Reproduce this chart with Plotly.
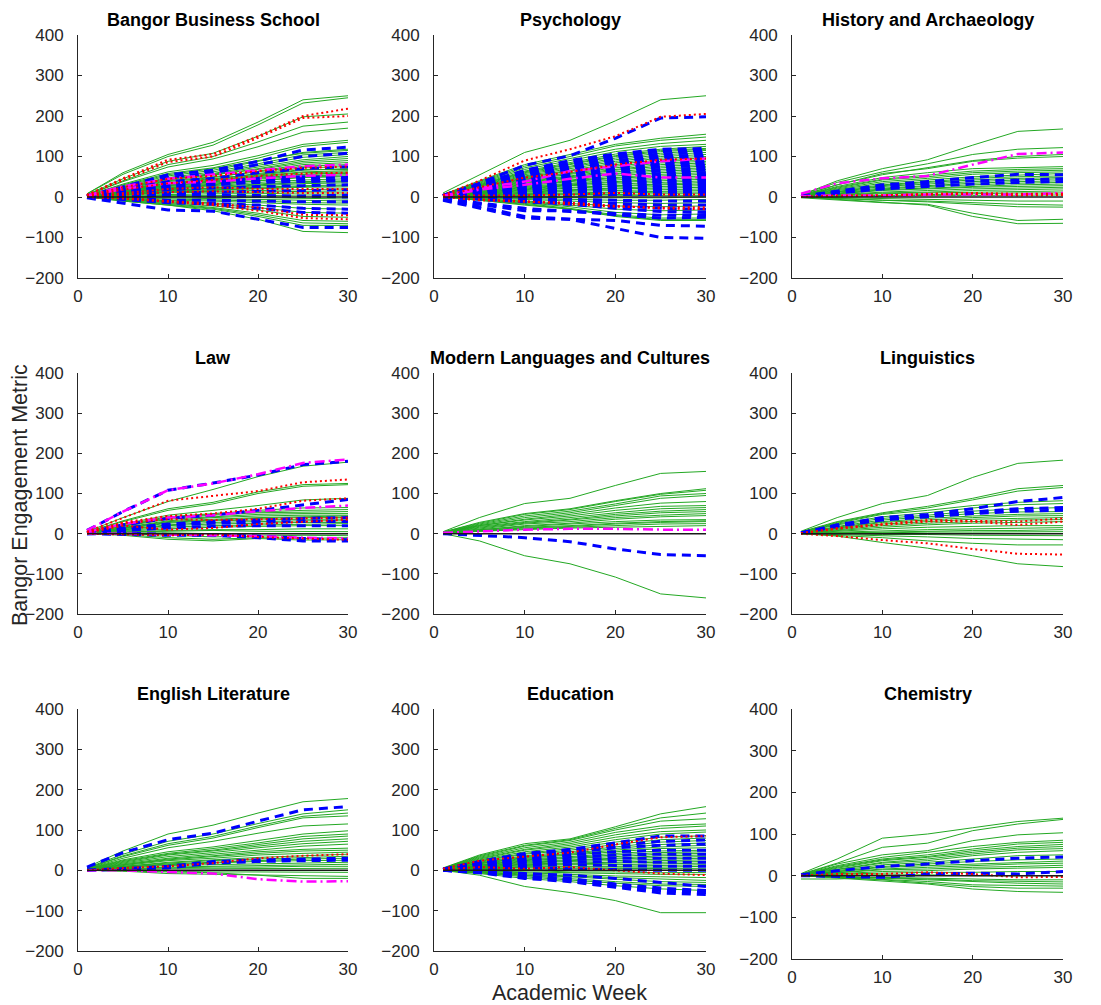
import plotly.graph_objects as go

# Academic weeks at which each student's cumulative metric is recorded
WEEKS = [1, 5, 10, 15, 20, 25, 30]
ZERO = [0, 0, 0, 0, 0, 0, 0]

TITLES = ["Bangor Business School", "Psychology", "History and Archaeology",
          "Law", "Modern Languages and Cultures", "Linguistics",
          "English Literature", "Education", "Chemistry"]

# ---- Bangor Business School ----
bbs_green = [
    [8, 60, 105, 135, 185, 240, 250], [8, 56, 100, 128, 178, 232, 245],
    [6, 45, 88, 108, 150, 198, 205], [5, 40, 80, 100, 136, 175, 185],
    [5, 38, 74, 94, 124, 160, 170], [4, 32, 62, 78, 102, 130, 140],
    [4, 30, 58, 72, 96, 125, 135], [3, 26, 52, 66, 88, 110, 118],
    [4, 28, 55, 70, 90, 108, 115], [3, 24, 48, 62, 82, 104, 110],
    [3, 22, 45, 58, 78, 98, 105], [3, 24, 46, 56, 74, 92, 100],
    [2, 20, 42, 54, 70, 88, 95], [3, 22, 44, 55, 68, 84, 90],
    [2, 18, 38, 48, 64, 80, 85], [2, 20, 40, 50, 62, 76, 80],
    [2, 16, 34, 44, 58, 72, 75], [1, 18, 32, 42, 54, 66, 70],
    [2, 18, 35, 45, 56, 68, 68], [2, 15, 30, 40, 52, 62, 65],
    [1, 15, 28, 38, 50, 60, 62], [1, 14, 28, 36, 46, 56, 60],
    [2, 17, 30, 38, 48, 56, 58], [1, 12, 26, 34, 44, 52, 55],
    [1, 12, 22, 30, 40, 50, 52], [2, 14, 24, 32, 40, 48, 50],
    [1, 10, 22, 28, 36, 42, 45], [1, 12, 20, 26, 32, 38, 40],
    [1, 8, 16, 22, 30, 36, 38], [0, 8, 18, 22, 28, 33, 35],
    [1, 10, 16, 20, 24, 28, 30], [0, 6, 12, 16, 22, 26, 28],
    [0, 6, 14, 18, 20, 24, 25], [1, 8, 12, 14, 16, 19, 20],
    [0, 5, 10, 12, 12, 14, 15], [0, 4, 6, 8, 8, 10, 10],
    [0, 2, 4, 4, 3, 5, 5], [0, 0, 2, 0, -2, -3, -5],
    [0, -2, -2, -4, -6, -9, -10], [0, -2, -4, -8, -10, -14, -15],
    [0, -4, -8, -10, -14, -18, -20], [0, -4, -10, -14, -20, -28, -30],
    [0, -6, -12, -18, -26, -38, -40], [0, -6, -14, -22, -32, -48, -50],
    [0, -8, -16, -26, -40, -58, -60], [0, -8, -18, -28, -44, -64, -66],
    [0, -10, -20, -30, -48, -70, -70], [0, -10, -20, -34, -55, -85, -88],
]
bbs_blue = [
    [3, 25, 55, 66, 88, 116, 123], [3, 22, 48, 60, 80, 100, 108],
    [2, 18, 38, 46, 60, 70, 75], [1, 14, 26, 32, 40, 44, 42],
    [2, 15, 30, 38, 46, 50, 48], [1, 12, 24, 30, 36, 38, 40],
    [1, 10, 18, 22, 26, 28, 30], [0, 6, 10, 12, 14, 16, 18],
    [0, 2, 8, 6, 4, 2, 0], [0, 4, 4, 2, 2, 2, 5],
    [0, -2, -8, -8, -10, -12, -12], [0, -4, -12, -16, -20, -28, -30],
    [0, -6, -14, -18, -28, -38, -40], [-2, -15, -32, -35, -55, -75, -75],
]
bbs_red = [
    [5, 46, 92, 106, 150, 200, 218], [5, 42, 86, 100, 146, 195, 200],
    [3, 24, 45, 52, 64, 72, 75], [2, 18, 34, 42, 52, 58, 60],
    [1, 10, 20, 24, 20, 20, 20], [0, 6, 12, 14, 12, 10, 10],
    [0, -2, -10, -16, -26, -44, -45], [0, -4, -12, -20, -34, -52, -55],
]
bbs_magenta = [[4, 26, 45, 56, 66, 76, 80], [3, 20, 34, 38, 46, 52, 55]]

# ---- Psychology ----
psy_green = [
    [10, 55, 110, 140, 188, 240, 250], [6, 40, 80, 105, 130, 145, 155],
    [6, 38, 76, 100, 126, 140, 148], [5, 36, 72, 95, 118, 132, 140],
    [5, 34, 68, 90, 112, 125, 130], [4, 32, 64, 85, 106, 118, 125],
    [4, 30, 62, 82, 102, 115, 120], [4, 30, 60, 80, 100, 112, 118],
    [4, 28, 58, 76, 96, 108, 115], [3, 27, 55, 74, 92, 104, 110],
    [3, 26, 52, 70, 88, 100, 105], [3, 24, 50, 66, 84, 96, 100],
    [3, 23, 48, 64, 80, 92, 96], [3, 22, 46, 60, 76, 88, 92],
    [2, 21, 44, 58, 72, 84, 88], [2, 20, 42, 56, 68, 80, 84],
    [2, 19, 40, 52, 66, 76, 80], [2, 18, 38, 50, 62, 72, 76],
    [2, 17, 36, 48, 58, 68, 72], [2, 16, 34, 46, 56, 64, 68],
    [2, 15, 32, 42, 52, 60, 64], [2, 14, 30, 40, 48, 56, 60],
    [2, 14, 28, 38, 46, 52, 56], [1, 12, 26, 34, 42, 48, 52],
    [1, 12, 24, 32, 38, 44, 48], [1, 10, 22, 30, 36, 40, 44],
    [1, 10, 20, 28, 32, 36, 40], [1, 8, 18, 24, 28, 32, 36],
    [1, 8, 16, 22, 26, 30, 32], [1, 6, 14, 18, 22, 26, 28],
    [1, 6, 12, 16, 20, 22, 24], [1, 5, 10, 14, 16, 18, 20],
    [0, 4, 8, 10, 12, 14, 16], [0, 3, 6, 8, 10, 12, 12],
    [0, 2, 4, 6, 6, 8, 8], [0, 1, 2, 2, 3, 4, 4],
    [0, 0, 0, -2, -2, -2, 0], [0, -2, -4, -6, -8, -8, -6],
    [0, -2, -6, -10, -14, -16, -14], [0, -4, -10, -16, -22, -24, -22],
    [0, -4, -12, -20, -30, -34, -32], [0, -6, -14, -24, -38, -44, -42],
    [0, -6, -16, -28, -44, -52, -52], [0, -8, -18, -30, -46, -56, -56],
    [0, -8, -20, -30, -48, -58, -58],
]
psy_blue = [
    [4, 34, 78, 102, 145, 195, 198], [4, 32, 66, 90, 106, 118, 120],
    [3, 30, 62, 84, 102, 112, 115], [3, 28, 58, 78, 96, 106, 110],
    [3, 26, 54, 72, 90, 100, 104], [3, 24, 50, 68, 86, 96, 100],
    [3, 22, 46, 62, 80, 90, 94], [2, 20, 44, 58, 74, 84, 88],
    [2, 20, 42, 54, 70, 80, 82], [2, 18, 38, 50, 66, 74, 78],
    [2, 16, 36, 48, 60, 68, 72], [2, 15, 34, 44, 56, 64, 66],
    [2, 14, 30, 40, 50, 58, 60], [2, 12, 28, 36, 46, 52, 55],
    [1, 12, 26, 34, 42, 48, 50], [1, 10, 24, 30, 38, 42, 45],
    [1, 10, 20, 28, 34, 38, 40], [1, 8, 18, 24, 30, 34, 35],
    [1, 7, 16, 20, 26, 28, 30], [1, 6, 14, 18, 22, 24, 25],
    [1, 5, 12, 16, 18, 20, 20], [0, 4, 10, 12, 14, 16, 15],
    [0, 3, 6, 8, 10, 10, 10], [0, 2, 4, 4, 6, 6, 5],
    [0, -2, -4, -6, -8, -10, -10], [0, -4, -8, -10, -16, -20, -20],
    [0, -4, -10, -14, -22, -28, -30], [0, -6, -12, -18, -28, -36, -38],
    [-4, -14, -28, -36, -40, -45, -45], [-5, -18, -34, -34, -44, -52, -50],
    [-5, -24, -48, -55, -58, -70, -72], [-8, -28, -52, -55, -78, -100, -102],
]
psy_red = [
    [5, 40, 90, 118, 150, 198, 205], [3, 24, 48, 62, 80, 92, 95],
    [1, 4, 4, 6, 10, 6, 6], [0, -8, -12, -14, -22, -28, -30],
    [0, -6, -10, -18, -24, -26, -25],
]
psy_magenta = [[3, 22, 38, 64, 76, 88, 95], [2, 18, 30, 45, 58, 48, 48]]

# ---- History and Archaeology ----
hist_green = [
    [5, 40, 70, 92, 128, 162, 168], [5, 36, 62, 82, 105, 118, 122],
    [4, 30, 55, 72, 90, 100, 105], [4, 30, 58, 70, 88, 96, 100],
    [3, 26, 48, 60, 70, 72, 75], [3, 24, 44, 54, 64, 68, 70],
    [3, 22, 42, 50, 60, 64, 66], [2, 20, 38, 46, 56, 60, 62],
    [2, 18, 34, 42, 50, 54, 58], [2, 16, 30, 38, 46, 50, 52],
    [2, 14, 28, 36, 42, 46, 48], [2, 12, 26, 32, 38, 42, 45],
    [1, 12, 22, 28, 34, 38, 40], [1, 10, 20, 26, 30, 34, 36],
    [1, 8, 18, 22, 26, 30, 32], [1, 8, 16, 20, 24, 26, 28],
    [1, 6, 12, 16, 20, 22, 24], [0, 4, 10, 12, 16, 18, 20],
    [0, 4, 8, 10, 12, 14, 15], [0, 2, 4, 6, 8, 10, 10],
    [0, 2, 2, 4, 4, 5, 5], [0, -2, -4, -6, -8, -10, -10],
    [0, -4, -8, -10, -14, -18, -20], [0, -4, -8, -12, -18, -24, -25],
    [-2, -8, -14, -18, -40, -58, -55], [0, -6, -12, -20, -48, -66, -65],
]
hist_blue = [
    [2, 14, 30, 38, 48, 56, 55], [2, 12, 24, 32, 40, 42, 45],
    [1, 10, 20, 26, 32, 36, 38],
]
hist_red = [[0, 2, 4, 6, 8, 4, 5], [0, 4, 4, 8, 10, 8, 8]]
hist_magenta = [[8, 34, 46, 52, 80, 106, 110], [2, 4, 4, 6, 6, 6, 10]]

# ---- Law ----
law_green = [
    [5, 40, 80, 110, 142, 168, 178], [4, 32, 62, 78, 104, 122, 125],
    [4, 30, 58, 74, 100, 118, 122], [3, 24, 46, 58, 70, 84, 88],
    [3, 22, 42, 50, 58, 64, 65], [3, 20, 40, 48, 54, 58, 60],
    [2, 20, 38, 46, 52, 54, 55], [2, 18, 36, 42, 48, 50, 50],
    [2, 16, 32, 40, 44, 46, 46], [2, 14, 30, 36, 40, 42, 44],
    [2, 14, 28, 34, 38, 40, 40], [1, 12, 26, 32, 34, 36, 36],
    [1, 10, 22, 28, 30, 32, 32], [1, 10, 20, 24, 26, 28, 28],
    [1, 8, 16, 20, 22, 24, 25], [1, 6, 12, 16, 18, 20, 20],
    [0, 4, 8, 10, 10, 12, 12], [0, 4, 6, 8, 6, 6, 5],
    [0, 2, 2, 0, 0, 0, 0], [0, 0, -4, -8, -6, -4, -5],
    [0, -2, -10, -14, -10, -12, -10], [0, -4, -14, -18, -12, -16, -15],
]
law_blue = [
    [8, 55, 108, 126, 146, 172, 180], [3, 22, 38, 46, 58, 72, 85],
    [2, 14, 24, 30, 34, 38, 40], [1, 10, 20, 26, 28, 30, 30],
    [1, 8, 14, 18, 20, 20, 20], [0, 2, -2, -2, -6, -12, -15],
    [0, -2, -4, -4, -10, -18, -18],
]
law_red = [
    [5, 40, 82, 94, 106, 128, 135], [3, 28, 44, 50, 62, 82, 88],
    [3, 26, 36, 34, 36, 38, 40], [2, 20, 10, 14, 24, 30, 35],
    [0, -2, -4, -2, -8, -12, -15],
]
law_magenta = [
    [8, 55, 108, 125, 148, 176, 185], [4, 24, 40, 46, 56, 64, 70],
    [0, 0, -2, -4, -6, -10, -12],
]

# ---- Modern Languages and Cultures ----
mlc_green = [
    [5, 40, 75, 88, 120, 150, 155], [4, 28, 50, 62, 82, 100, 112],
    [4, 26, 48, 60, 80, 98, 108], [3, 24, 44, 56, 74, 94, 100],
    [3, 22, 40, 52, 70, 88, 95], [3, 20, 36, 48, 64, 76, 80],
    [2, 20, 34, 44, 58, 68, 70], [2, 18, 30, 40, 52, 62, 65],
    [2, 16, 28, 36, 48, 56, 60], [2, 14, 26, 34, 44, 52, 55],
    [2, 12, 24, 30, 40, 46, 50], [1, 10, 20, 26, 36, 42, 45],
    [1, 10, 18, 24, 30, 34, 35], [1, 8, 16, 20, 26, 30, 32],
    [1, 8, 14, 18, 24, 28, 30], [1, 6, 12, 16, 20, 24, 25],
    [1, 6, 10, 14, 16, 18, 20], [0, -18, -55, -75, -108, -150, -160],
]
mlc_blue = [[0, -4, -10, -20, -38, -52, -55]]
mlc_red = []
mlc_magenta = [[2, 6, 10, 12, 12, 10, 10]]

# ---- Linguistics ----
ling_green = [
    [6, 40, 75, 95, 140, 175, 183], [5, 30, 52, 68, 88, 112, 120],
    [4, 28, 50, 64, 84, 106, 115], [4, 26, 48, 58, 70, 78, 82],
    [3, 24, 42, 52, 64, 72, 75], [3, 22, 38, 46, 56, 62, 65],
    [2, 18, 34, 42, 50, 54, 55], [2, 16, 30, 38, 44, 48, 50],
    [2, 14, 28, 34, 40, 44, 45], [2, 12, 24, 30, 36, 38, 40],
    [1, 10, 20, 26, 30, 34, 35], [1, 8, 16, 22, 26, 28, 30],
    [1, 6, 12, 16, 18, 20, 20], [1, 4, 8, 10, 12, 14, 15],
    [0, 2, 4, 6, 8, 8, 10], [0, 2, 2, 4, 4, 4, 5],
    [0, 0, -2, -2, -4, -4, -5], [0, -2, -4, -8, -12, -14, -15],
    [0, -4, -10, -18, -24, -28, -28], [0, -6, -22, -36, -55, -75, -82],
]
ling_blue = [
    [2, 22, 40, 48, 62, 80, 90], [2, 20, 36, 44, 54, 62, 65],
    [2, 18, 34, 42, 50, 56, 58],
]
ling_red = [
    [1, 14, 24, 34, 32, 30, 38], [1, 12, 22, 30, 30, 22, 30],
    [0, -6, -16, -24, -38, -50, -52],
]
ling_magenta = []

# ---- English Literature ----
eng_green = [
    [8, 48, 90, 112, 142, 170, 178], [6, 40, 72, 90, 116, 140, 150],
    [5, 36, 66, 84, 110, 134, 142], [5, 34, 62, 80, 106, 130, 135],
    [4, 30, 56, 72, 92, 110, 115], [4, 26, 46, 58, 74, 90, 98],
    [3, 24, 42, 54, 68, 84, 90], [3, 22, 40, 50, 64, 78, 85],
    [3, 20, 38, 48, 60, 72, 78], [2, 18, 34, 44, 56, 66, 72],
    [2, 16, 30, 40, 50, 60, 65], [2, 14, 28, 36, 46, 52, 55],
    [2, 14, 26, 34, 42, 48, 50], [2, 12, 24, 30, 38, 42, 45],
    [1, 10, 20, 26, 32, 36, 40], [1, 10, 18, 24, 28, 32, 35],
    [1, 8, 16, 20, 24, 28, 30], [1, 8, 14, 18, 22, 24, 25],
    [1, 6, 12, 14, 16, 18, 20], [0, 4, 8, 10, 12, 14, 15],
    [0, 4, 6, 8, 8, 10, 10], [0, 2, 4, 4, 4, 5, 5],
    [0, 0, -2, -4, -4, -4, -5], [0, -2, -8, -10, -12, -14, -15],
    [0, -2, -4, -6, -12, -20, -20],
]
eng_blue = [
    [8, 44, 76, 92, 122, 150, 158], [1, 4, 10, 22, 26, 28, 30],
    [0, 2, 6, 18, 22, 24, 25],
]
eng_red = [[0, 6, 10, 18, 30, 36, 40]]
eng_magenta = [[0, 0, -4, -8, -22, -28, -27]]

# ---- Education ----
edu_green = [
    [6, 38, 66, 78, 108, 140, 158], [5, 36, 62, 76, 104, 130, 142],
    [5, 34, 60, 74, 100, 122, 128], [4, 32, 56, 70, 94, 110, 115],
    [4, 30, 52, 66, 88, 104, 110], [4, 28, 50, 62, 82, 96, 100],
    [3, 26, 46, 58, 76, 90, 95], [3, 24, 42, 54, 70, 82, 86],
    [3, 22, 40, 50, 64, 76, 80], [3, 20, 36, 46, 58, 70, 74],
    [2, 18, 34, 42, 54, 64, 68], [2, 17, 32, 40, 50, 58, 62],
    [2, 16, 30, 38, 46, 54, 56], [2, 14, 28, 34, 42, 48, 50],
    [2, 13, 26, 32, 38, 44, 46], [2, 12, 24, 30, 34, 40, 42],
    [1, 10, 22, 26, 30, 36, 38], [1, 10, 20, 24, 28, 32, 34],
    [1, 8, 18, 22, 24, 28, 30], [1, 8, 16, 18, 20, 24, 26],
    [1, 6, 14, 16, 18, 20, 22], [1, 6, 12, 14, 14, 16, 18],
    [1, 4, 10, 10, 10, 12, 14], [0, 4, 8, 8, 8, 8, 10],
    [0, 2, 6, 4, 4, 4, 5], [0, 2, 2, 0, 0, 0, 0],
    [0, 0, 0, -4, -4, -6, -5], [0, -2, -4, -6, -8, -10, -10],
    [0, -2, -6, -10, -14, -16, -18], [0, -4, -10, -14, -18, -22, -25],
    [0, -4, -12, -16, -22, -28, -30], [0, -6, -14, -20, -28, -34, -35],
    [0, -6, -16, -24, -32, -38, -40], [0, -8, -20, -28, -38, -46, -50],
    [0, -12, -40, -55, -75, -105, -105],
]
edu_blue = [
    [3, 22, 42, 52, 68, 85, 85], [3, 20, 38, 48, 62, 72, 75],
    [2, 18, 34, 44, 56, 62, 65], [2, 16, 30, 38, 46, 50, 50],
    [2, 14, 26, 32, 38, 40, 40], [1, 12, 22, 26, 30, 30, 30],
    [1, 10, 18, 20, 22, 20, 20], [1, 8, 12, 14, 12, 10, 10],
    [0, 4, 6, 4, 2, 0, 0], [0, -2, -8, -12, -20, -30, -40],
    [0, -4, -14, -20, -34, -44, -50], [0, -4, -18, -24, -38, -50, -55],
    [0, -6, -20, -28, -42, -56, -60],
]
edu_red = [[4, 24, 34, 44, 64, 82, 85], [2, 8, 4, 8, 0, -8, -12]]
edu_magenta = []

# ---- Chemistry ----
chem_green = [
    [5, 40, 90, 100, 115, 130, 138], [4, 30, 68, 78, 108, 124, 135],
    [3, 28, 50, 60, 84, 98, 103], [3, 24, 44, 56, 70, 80, 85],
    [2, 22, 40, 50, 64, 76, 80], [2, 20, 38, 46, 60, 70, 75],
    [2, 18, 36, 44, 56, 66, 70], [2, 16, 32, 40, 52, 62, 65],
    [2, 14, 30, 36, 48, 56, 60], [1, 12, 26, 32, 40, 48, 50],
    [1, 10, 22, 28, 34, 38, 40], [1, 10, 20, 24, 28, 32, 35],
    [1, 8, 16, 20, 24, 28, 30], [1, 6, 14, 16, 20, 22, 25],
    [0, 4, 10, 12, 16, 18, 20], [0, 4, 6, 8, 8, 10, 10],
    [0, 2, 2, 2, 0, 0, 0], [-8, -8, -4, -6, -8, -10, -10],
    [0, -2, -6, -8, -12, -14, -15], [0, -2, -6, -10, -14, -18, -20],
    [0, -4, -8, -14, -22, -24, -25], [0, -4, -10, -18, -26, -30, -30],
    [0, -6, -12, -20, -32, -38, -40],
]
chem_blue = [[2, 12, 22, 28, 36, 42, 45], [0, -2, -4, 4, 6, 4, 10]]
chem_red = [[0, 4, 4, 8, 4, -4, -3]]
chem_magenta = []

PANELS = [
    (bbs_green, bbs_blue, bbs_magenta, bbs_red),
    (psy_green, psy_blue, psy_magenta, psy_red),
    (hist_green, hist_blue, hist_magenta, hist_red),
    (law_green, law_blue, law_magenta, law_red),
    (mlc_green, mlc_blue, mlc_magenta, mlc_red),
    (ling_green, ling_blue, ling_magenta, ling_red),
    (eng_green, eng_blue, eng_magenta, eng_red),
    (edu_green, edu_blue, edu_magenta, edu_red),
    (chem_green, chem_blue, chem_magenta, chem_red),
]

STYLES = [
    dict(color="rgb(35,168,35)", width=1),
    dict(color="rgb(0,0,255)", width=3, dash="9px,6px"),
    dict(color="rgb(255,0,255)", width=2.5, dash="10px,4px,2px,4px"),
    dict(color="rgb(255,0,0)", width=2, dash="2px,3px"),
]

W, H = 1101, 1005
COLS = [(78, 348), (434, 706), (792, 1063)]
ROWS = [(35, 278), (373, 614), (709, 951)]
FONT = "Liberation Sans, Arial, Helvetica, sans-serif"
AXC = "#262626"

fig = go.Figure()
layout = dict(width=W, height=H, autosize=False,
              margin=dict(l=0, r=0, t=0, b=0, pad=0, autoexpand=False),
              paper_bgcolor="white", plot_bgcolor="white", showlegend=False,
              font=dict(family=FONT, color=AXC))
annotations = []

for i, groups in enumerate(PANELS):
    k = i + 1
    r, c = divmod(i, 3)
    x0, x1 = COLS[c]
    y0, y1 = ROWS[r]
    if i == 8:
        y1 = 959
    xa, ya = f"x{k}", f"y{k}"
    for series_list, style in zip(groups, STYLES):
        for ys in series_list:
            fig.add_trace(go.Scatter(x=WEEKS, y=ys, mode="lines", line=style,
                                     xaxis=xa, yaxis=ya, hoverinfo="skip"))
    fig.add_trace(go.Scatter(x=WEEKS, y=ZERO, mode="lines",
                             line=dict(color="#1a1a1a", width=1.5),
                             xaxis=xa, yaxis=ya, hoverinfo="skip"))
    common = dict(showline=True, linecolor=AXC, linewidth=1, ticks="inside",
                  ticklen=4, tickcolor=AXC, tickwidth=1, showgrid=False,
                  zeroline=False, automargin=False,
                  tickfont=dict(size=17, color=AXC, family=FONT),
                  fixedrange=True)
    layout[f"xaxis{k}"] = dict(domain=[x0 / W, x1 / W], anchor=ya, range=[0, 30],
                               tickvals=[0, 10, 20, 30], ticklabelstandoff=3, **common)
    layout[f"yaxis{k}"] = dict(domain=[1 - y1 / H, 1 - y0 / H], anchor=xa,
                               range=[-200, 400],
                               tickvals=[-200, -100, 0, 100, 200, 300, 400],
                               ticklabelstandoff=10, **common)
    annotations.append(dict(text=f"<b>{TITLES[i]}</b>", x=(x0 + x1) / 2 / W,
                            y=1 - (y0 - 15) / H, xref="paper", yref="paper",
                            xanchor="center", yanchor="middle", showarrow=False,
                            font=dict(size=18, color="black", family=FONT)))

annotations.append(dict(text="Bangor Engagement Metric", x=20 / W, y=1 - 495 / H,
                        xref="paper", yref="paper", textangle=-90,
                        xanchor="center", yanchor="middle", showarrow=False,
                        font=dict(size=21.5, color=AXC, family=FONT)))
annotations.append(dict(text="Academic Week", x=569 / W, y=1 - 993 / H,
                        xref="paper", yref="paper", xanchor="center",
                        yanchor="middle", showarrow=False,
                        font=dict(size=21.5, color=AXC, family=FONT)))
layout["annotations"] = annotations
fig.update_layout(**layout)
fig.write_html("out.html")
